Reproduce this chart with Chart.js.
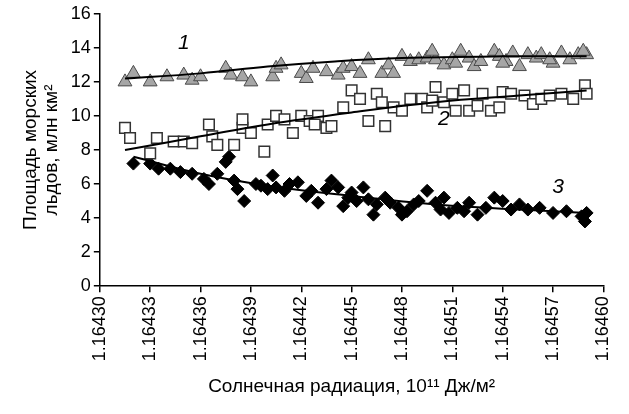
<!DOCTYPE html>
<html><head><meta charset="utf-8">
<script src="https://cdn.jsdelivr.net/npm/chart.js@4"></script>
<style>body{margin:0;background:#fff}#wrap{width:629px;height:414px}</style>
</head><body><div id="wrap"><canvas id="c"></canvas></div>
<script>
// x values are offsets in units of 1e-5 from 1.16430
var xTicks = [1.16430, 1.16433, 1.16436, 1.16439, 1.16442, 1.16445, 1.16448, 1.16451, 1.16454, 1.16457, 1.16460];

var s1 = [[1.5,12.0],[2.0,12.5],[3.0,12.0],[4.0,12.3],[5.0,12.4],[5.5,12.1],[6.0,12.3],[7.5,12.8],[7.8,12.4],[8.5,12.3],[9.0,12.0],[10.3,12.3],[10.5,12.8],[10.8,13.0],[12.0,12.5],[12.3,12.2],[12.7,12.8],[13.5,12.6],[14.2,12.4],[14.5,12.8],[15.0,12.9],[15.5,12.5],[16.0,13.3],[16.8,12.5],[17.2,13.0],[17.5,12.5],[18.0,13.5],[18.5,13.2],[19.0,13.3],[19.5,13.4],[20.0,13.3],[20.5,13.0],[21.0,13.3],[21.5,13.8],[22.0,13.4],[22.3,12.9],[22.7,13.2],[23.5,13.8],[23.8,13.5],[24.2,13.2],[24.6,13.7],[25.0,12.9],[25.5,13.6],[26.0,13.4],[26.3,13.6],[27.0,13.1],[27.5,13.7],[28.0,13.3],[28.5,13.6],[29.0,13.6],[28.8,13.8],[19.8,13.8],[21.2,13.1],[24.0,13.1],[26.8,13.3]];
var s2 = [[1.5,9.3],[1.8,8.7],[3.0,7.8],[3.4,8.7],[4.4,8.5],[5.0,8.5],[5.5,8.4],[6.5,9.5],[6.7,8.8],[7.0,8.3],[8.0,8.3],[8.5,9.3],[8.5,9.8],[9.0,9.0],[9.8,7.9],[10.0,9.5],[10.5,10.0],[11.0,9.8],[11.5,9.0],[12.0,10.0],[12.5,9.7],[13.0,10.0],[13.5,9.3],[13.8,9.4],[14.5,10.5],[15.0,11.5],[15.5,11.0],[16.0,9.7],[16.5,11.3],[17.0,9.4],[17.5,10.5],[18.0,10.3],[18.5,11.0],[19.2,11.0],[19.5,10.5],[20.0,11.7],[20.5,10.8],[21.0,11.3],[21.7,11.5],[22.0,10.3],[22.5,10.6],[23.3,10.3],[23.8,10.5],[24.0,11.4],[24.5,11.3],[25.3,11.2],[25.8,10.7],[26.3,11.0],[26.8,11.2],[27.5,11.3],[28.2,11.0],[28.9,11.8],[29.0,11.3],[19.8,10.9],[16.8,10.8],[12.8,9.5],[21.2,10.3],[22.8,11.3]];
var s3 = [[2,7.2],[3,7.2],[3.5,6.9],[4.2,6.9],[4.8,6.7],[5.5,6.6],[6.2,6.3],[6.5,6.0],[7.0,6.6],[7.5,7.3],[7.7,7.6],[8.0,6.2],[8.2,5.7],[8.6,5.0],[9.3,6.0],[9.6,5.9],[10.3,6.5],[10.0,5.7],[10.5,5.8],[11.0,5.6],[11.3,6.0],[11.8,6.1],[12.3,5.3],[12.6,5.6],[13.0,4.9],[13.5,5.7],[13.8,6.2],[14.2,5.8],[14.5,4.7],[15.0,5.5],[15.3,5.0],[15.7,5.8],[16.0,5.1],[16.5,4.8],[17.0,5.2],[17.3,4.9],[17.8,4.6],[18.0,4.2],[18.3,4.4],[18.7,4.8],[19.0,5.0],[19.5,5.6],[20.0,4.9],[20.3,4.5],[20.8,4.3],[21.3,4.6],[21.7,4.4],[22.0,4.9],[22.5,4.2],[23.0,4.6],[23.5,5.2],[24.0,5.0],[24.5,4.5],[25.0,4.8],[25.5,4.5],[26.2,4.6],[27.0,4.3],[27.8,4.4],[28.7,4.1],[28.9,3.8],[29.0,4.3],[16.3,4.2],[20.5,5.2],[14.8,5.2]];

// trend lines
var t1 = [[1.5,12.2],[6,12.5],[10,12.9],[14,13.2],[18,13.4],[24,13.5],[29,13.5]];
var t2 = [[1.5,8.0],[6,8.8],[10,9.5],[15,10.2],[20,10.8],[25,11.2],[29,11.5]];
var t3 = [[2,7.6],[6,6.6],[10,5.9],[15,5.3],[20,4.8],[25,4.5],[29,4.3]];

var curveLabels = [["1",5.0,14.3],["2",20.5,9.8],["3",27.3,5.8]];

function pts(a){ return a.map(function(p){ return {x:1.16430+p[0]*1e-5, y:p[1]}; }); }

var font = "'Liberation Sans', Arial, sans-serif";

var labelPlugin = {
    id:'curveLabels',
    afterDatasetsDraw:function(chart){
        var ctx = chart.ctx, xs = chart.scales.x, ys = chart.scales.y;
        ctx.save();
        ctx.font = "italic 21px " + font;
        ctx.fillStyle = "#000";
        ctx.textAlign = "center";
        ctx.textBaseline = "middle";
        curveLabels.forEach(function(l){
            ctx.fillText(l[0], xs.getPixelForValue(1.16430+l[1]*1e-5), ys.getPixelForValue(l[2]));
        });
        ctx.restore();
    }
};

function lineSet(a){
    return {type:'line', data:pts(a), borderColor:'#000', borderWidth:2, pointRadius:0, tension:0.4, fill:false, order:0};
}

new Chart(document.getElementById('c'), {
    type:'scatter',
    data:{datasets:[
        lineSet(t1), lineSet(t2), lineSet(t3),
        {data:pts(s1), pointStyle:'triangle', pointRadius:8, backgroundColor:'#a6a6a6', borderColor:'#4a4a4a', borderWidth:1, order:1},
        {data:pts(s2), pointStyle:'rect', pointRadius:7.5, backgroundColor:'#fff', borderColor:'#333', borderWidth:1.5, order:1},
        {data:pts(s3), pointStyle:'rectRot', pointRadius:6.5, backgroundColor:'#000', borderColor:'#000', borderWidth:1, order:1}
    ]},
    options:{
        responsive:true, maintainAspectRatio:false, animation:false,
        layout:{padding:{top:8,right:22,left:16,bottom:12}},
        plugins:{legend:{display:false}, tooltip:{enabled:false}},
        scales:{
            x:{type:'linear', min:1.16430, max:1.16460,
                afterBuildTicks:function(ax){ ax.ticks = xTicks.map(function(v){ return {value:v}; }); },
                ticks:{callback:function(v){ return v.toFixed(5); }, maxRotation:90, minRotation:90, color:'#000', font:{family:font,size:18}, autoSkip:false, padding:4},
                grid:{drawOnChartArea:false, tickLength:6, color:'#000', lineWidth:1.5},
                border:{color:'#000', width:1.5},
                title:{display:true, text:'Солнечная радиация, 10¹¹ Дж/м²', color:'#000', font:{family:font,size:19}, padding:{top:10}}
            },
            y:{min:0, max:16,
                ticks:{stepSize:2, color:'#000', font:{family:font,size:18}},
                grid:{drawOnChartArea:false, tickLength:6, color:'#000', lineWidth:1.5},
                border:{color:'#000', width:1.5},
                title:{display:true, text:['Площадь морских','льдов, млн км²'], color:'#000', font:{family:font,size:19,lineHeight:1.1}, padding:{bottom:6}}
            }
        }
    },
    plugins:[labelPlugin]
});
</script></body></html>
